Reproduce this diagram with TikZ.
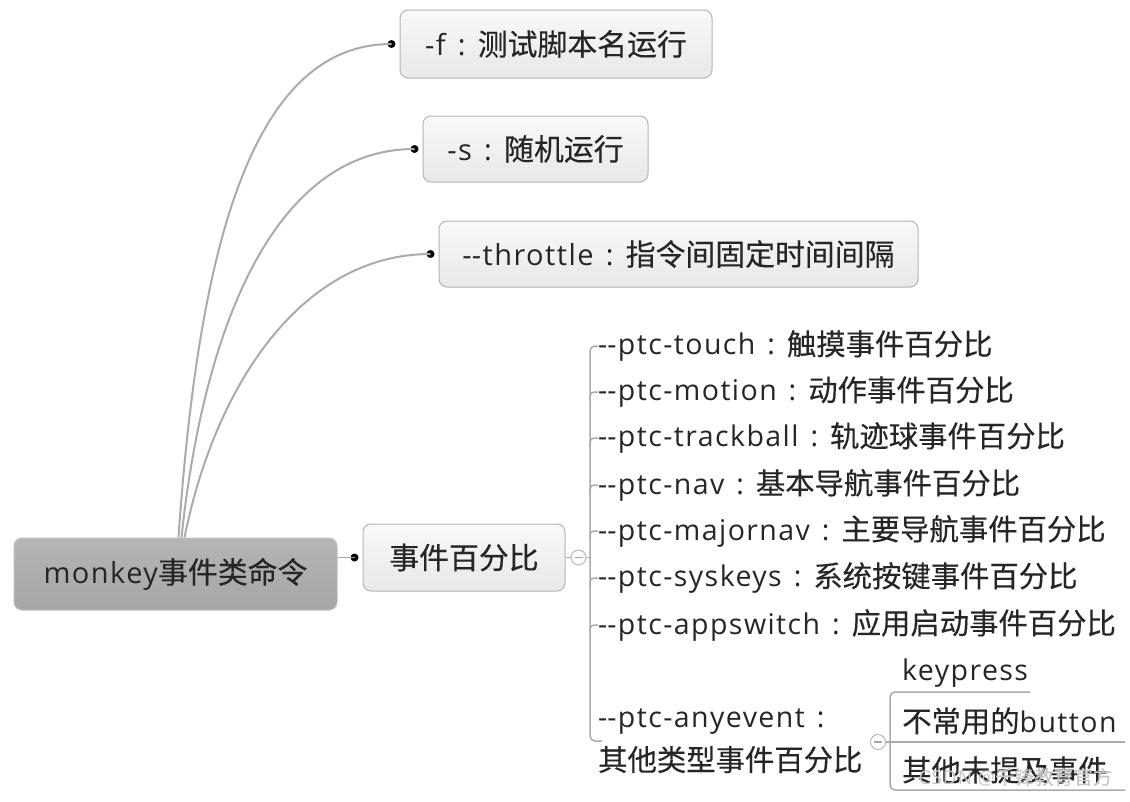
\documentclass[tikz,border=0pt]{standalone}
\usepackage{fontspec}
\setmainfont{Open Sans}[LetterSpace=5]
\newfontfamily\cjk{Noto Sans CJK SC}[FakeBold=0.3,Scale=1.03]
\usetikzlibrary{calc}
\definecolor{txt}{HTML}{262626}
\definecolor{bord}{HTML}{B4B4B4}
\definecolor{lnk}{HTML}{ABABAB}
\newcommand\twodash{-\kern0pt-}
\newcommand\col{\hspace{0.42em}:\hspace{0.42em}}
\begin{document}
\begin{tikzpicture}[x=1pt,y=-1pt,
  topic/.style={draw=bord, line width=1pt, rounded corners=8pt,
    top color=white!95!gray, bottom color=gray!18, inner sep=0pt,
    text=txt, font=\fontsize{29}{32}\selectfont},
  roottopic/.style={draw=gray!50, line width=1pt, rounded corners=8pt,
    top color=gray!58, bottom color=gray!70, inner sep=0pt,
    text=txt, font=\fontsize{29}{32}\selectfont},
  item/.style={anchor=west, inner sep=0pt, text=txt,
    font=\fontsize{28.5}{43}\selectfont},
  link/.style={draw=lnk, line width=2pt},
  br/.style={draw=lnk, line width=1.5pt},
  dot/.style={circle, fill=black, inner sep=0pt, minimum size=8pt},
  collapse/.style={circle, draw=gray!55, fill=white, line width=1pt, inner sep=0pt, minimum size=15pt},
  minusbar/.style={draw=gray!70, line width=1.6pt}
]
\useasboundingbox (0,0) rectangle (1130,801);

% main topics
\node[roottopic, minimum width=323pt, minimum height=72pt] (root) at (175.5,574) {monkey{\cjk 事件类命令}};
\node[topic, minimum width=312pt, minimum height=68pt] (f) at (556,44) {-f\col{\cjk 测试脚本名运行}};
\node[topic, minimum width=225pt, minimum height=66pt] (s) at (535.5,149) {-s\col{\cjk 随机运行}};
\node[topic, minimum width=479pt, minimum height=66pt] (thr) at (678.5,254) {\twodash throttle\col{\cjk 指令间固定时间间隔}};
\node[topic, minimum width=202pt, minimum height=67pt] (evt) at (464,557.5) {{\cjk 事件百分比}};

% attach dots
\node[dot] (df) at ($(f.west)+(-8,0)$) {};
\node[dot] (ds) at ($(s.west)+(-8,0)$) {};
\node[dot] (dt) at ($(thr.west)+(-8,0)$) {};
\node[dot] (de) at ($(evt.west)+(-8,0)$) {};

% curved connectors from root
\coordinate (r1) at ($(root.north)+(3,0)$);
\coordinate (r2) at ($(root.north)+(6,0)$);
\coordinate (r3) at ($(root.north)+(9,0)$);
\draw[link] (r1) .. controls ($(r1)+(20,-290)$) and ($(df)+(-140,0)$) .. (df.center);
\draw[link] (r2) .. controls ($(r2)+(22,-210)$) and ($(ds)+(-140,0)$) .. (ds.center);
\draw[link] (r3) .. controls ($(r3)+(30,-150)$) and ($(dt)+(-130,0)$) .. (dt.center);
\draw[br] (root.east |- de) -- (de.center);

% sub items
\node[item] (touch) at (598,346) {\twodash ptc-touch\col{\cjk 触摸事件百分比}};
\node[item] (motion) at (598,392) {\twodash ptc-motion\col{\cjk 动作事件百分比}};
\node[item] (track) at (598,438) {\twodash ptc-trackball\col{\cjk 轨迹球事件百分比}};
\node[item] (nav) at (598,485) {\twodash ptc-nav\col{\cjk 基本导航事件百分比}};
\node[item] (major) at (598,531) {\twodash ptc-majornav\col{\cjk 主要导航事件百分比}};
\node[item] (sys) at (598,578) {\twodash ptc-syskeys\col{\cjk 系统按键事件百分比}};
\node[item] (app) at (598,625) {\twodash ptc-appswitch\col{\cjk 应用启动事件百分比}};
\node[item, align=left] (ae) at (598,741) {\twodash ptc-anyevent\col\\{\cjk 其他类型事件百分比}};

% collapse button of 事件百分比
\node[collapse] (c1) at ($(evt.east)+(13,0)$) {};
\draw[minusbar] ($(c1)+(-4,0)$) -- ($(c1)+(4,0)$);
\draw[br] (evt.east) -- (c1);
\coordinate (bx) at ($(touch.west)+(-8,0)$);
\coordinate (bend) at (590,741);
\coordinate (bendr) at (602,741);
\draw[br] (c1) -- (bx |- c1);
\draw[br, rounded corners=5pt] (touch.west) -| (bend) -- (bendr);
\foreach \n in {motion,track,nav,major,sys,app}{
  \draw[br, rounded corners=4pt] ($(bx |- \n.west)+(0,9)$) |- (\n.west);
}

% anyevent children
\node[item] (kp) at (902,673) {keypress};
\node[item] (btn) at (902,721) {{\cjk 不常用的}button};
\node[item] (oth) at (902,770) {{\cjk 其他未提及事件}};
\node[collapse] (c2) at (878,742) {};
\draw[minusbar] ($(c2)+(-4,0)$) -- ($(c2)+(4,0)$);
\coordinate (kpL) at (890,692);
\coordinate (kpR) at (1030,692);
\coordinate (btnR) at (1125,742);
\coordinate (othL) at (890,790);
\coordinate (othR) at (1125,790);
\draw[br, rounded corners=5pt] (kpR) -- (kpL) -- (othL) -- (othR);
\draw[br] (c2) -- (btnR);

% watermark
\node[text=gray!45, font=\fontsize{19}{22}\selectfont, anchor=east] (wm) at (1116,777) {CSDN @{\cjk 千锋教育官方}};
\end{tikzpicture}
\end{document}
